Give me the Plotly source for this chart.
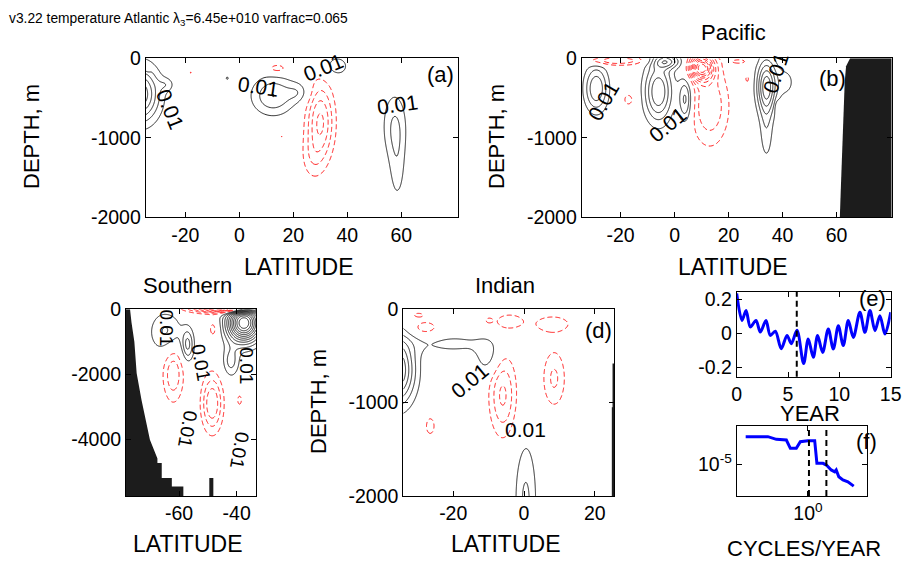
import numpy as np
import plotly.graph_objects as go

FONT = "Liberation Sans, Arial, sans-serif"
W, H = 905, 562

# ---------------------------------------------------------------------------
# EOF pattern features per basin: (latitude, depth m, amplitude, lat width, depth width)
ATL_POS = [(-37, -450, 0.060, 5.0, 240), (-27, -330, 0.012, 2.0, 60),
           (12.5, -470, 0.030, 5.5, 170), (22, -430, 0.014, 3.0, 90),
           (-4.5, -250, 0.011, 0.8, 30), (36, -100, 0.016, 3.5, 100),
           (57.5, -850, 0.020, 3.2, 300), (58.5, -1400, 0.013, 2.2, 330)]
ATL_NEG = [(30, -800, -0.042, 3.5, 330), (27, -1250, -0.012, 3.0, 200),
           (14, -130, -0.017, 3.0, 50), (-34, -140, -0.011, 0.8, 25),
           (-18, -180, -0.0105, 0.8, 20), (15.7, -985, -0.0105, 0.5, 25)]

PAC_POS = [(-29, -380, 0.040, 3.0, 200), (-6, -420, 0.050, 3.6, 260),
           (-3, -40, 0.040, 3.5, 60), (4, -520, 0.035, 1.8, 200),
           (34, -350, 0.055, 2.5, 230), (34, -900, 0.016, 1.8, 300),
           (41, -300, 0.013, 3.0, 150)]
PAC_NEG = [(-22, -30, -0.030, 8.0, 40), (-17, -520, -0.013, 2.0, 80),
           (10, -120, -0.090, 3.0, 110), (13, -600, -0.030, 4.8, 340),
           (24, -40, -0.012, 3.0, 30), (27, -260, -0.012, 1.0, 60),
           (38, -620, -0.011, 0.6, 60)]

SOU_POS = [(-37.5, -420, 0.120, 4.0, 400), (-64.5, -700, 0.022, 4.0, 450),
           (-57, -1100, 0.032, 1.5, 350), (-42, -1600, 0.024, 2.0, 330)]
SOU_NEG = [(-44, 60, -0.090, 8.0, 110), (-62, -2000, -0.028, 2.5, 600),
           (-48.5, -2900, -0.040, 2.5, 600), (-48, -600, -0.015, 1.5, 250),
           (-39, -2800, -0.012, 1.0, 200)]

IND_POS = [(-36, -650, 0.065, 3.5, 250), (-20, -370, 0.012, 9.0, 90),
           (-10, -520, 0.016, 2.5, 130), (0.5, -2050, 0.022, 2.2, 450)]
IND_NEG = [(-28, -200, -0.017, 3.0, 60), (-30, -60, -0.012, 2.0, 30),
           (-10, -120, -0.011, 1.0, 30), (-4, -130, -0.018, 3.0, 60),
           (8, -160, -0.018, 4.0, 70), (-6, -920, -0.032, 2.6, 300),
           (8.5, -740, -0.022, 2.3, 220), (-26.5, -1250, -0.013, 1.5, 110)]

# land / topography outlines (lat, depth)
PAC_LAND_LAT = [65, 63.5, 63, 62.5, 62, 61.5, 61.2, 80.4, 80.4]
PAC_LAND_DEP = [0, -100, -300, -700, -1200, -1700, -2000, -2000, 0]
SOU_LAND_LAT = [-78.4, -77.0, -76.5, -75.5, -74.7, -73.0, -70.1, -67.5, -67.5,
                -66.0, -66.0, -62.5, -62.5, -58.5, -58.5, -78.4]
SOU_LAND_DEP = [0, 0, -400, -1000, -1970, -2800, -4020, -4600, -4740,
                -4740, -5200, -5200, -5460, -5460, -5760, -5760]
SOU_RIDGE_LAT = [-49.5, -48.1, -48.1, -49.5]
SOU_RIDGE_DEP = [-5200, -5200, -5760, -5760]
IND_LAND_LAT = [25.0, 25.5, 25.5, 24.8, 24.8, 25.0]
IND_LAND_DEP = [-580, -580, -2000, -2000, -1050, -1050]

# contour labels: (text, lat, depth, angle)
ATL_LABELS = [("0.01", -25.5, -640, 68), ("0.01", 7, -350, 8),
              ("0.01", 31, -120, -22), ("0.01", 58.5, -580, -8)]
PAC_LABELS = [("0.01", -26.5, -540, -60), ("0.01", -2.5, -830, -40),
              ("0.01", 37.5, -180, -72)]
SOU_LABELS = [("0.01", -64.5, -560, 90), ("0.01", -52.5, -1650, 80),
              ("0.01", -36.5, -1750, 90), ("0.01", -57, -3700, 100),
              ("0.01", -39, -4350, 100)]
IND_LABELS = [("0.01", -15.3, -760, -40), ("0.01", 0.5, -1290, 0)]

# principal component time series (e)
PC_YEAR = [0.0, 0.52, 0.91, 1.33, 1.88, 2.30, 2.85, 3.27, 3.76, 4.34, 4.90,
           5.32, 5.87, 6.52, 6.97, 7.46, 7.88, 8.37, 8.92, 9.41, 9.90, 10.38,
           10.87, 11.36, 12.0, 12.49, 12.98, 13.47, 13.95, 14.44, 15.0]
PC_VALUE = [0.235, 0.076, 0.135, 0.038, 0.076, 0.008, 0.076, -0.012, 0.012,
            -0.090, -0.012, -0.061, 0.018, -0.178, -0.033, -0.141, -0.013,
            -0.112, 0.026, -0.092, 0.045, -0.072, 0.075, -0.024, 0.124, 0.006,
            0.134, 0.016, 0.104, -0.004, 0.124]
PC_MARK_YEAR = 5.85

# spectrum (f)
SPEC_FREQ = [0.299, 0.460, 0.542, 0.658, 0.711, 0.798, 0.863, 1.0, 1.14, 1.19,
             1.34, 1.43, 1.57, 1.68, 1.73, 1.82, 1.97, 2.17, 2.43]
SPEC_POWER = [4.82e-5, 4.82e-5, 4.14e-5, 3.98e-5, 2.47e-5, 2.47e-5, 3.61e-5,
              3.83e-5, 3.83e-5, 1.04e-5, 1.04e-5, 9.4e-6, 7.1e-6, 6.4e-6,
              7.1e-6, 4.8e-6, 4.0e-6, 3.6e-6, 2.8e-6]
SPEC_BAND = [1.02, 1.43]


def px_x(p):
    return p / W


def px_y(p):
    return 1 - p / H


def build_field(lat, dep, feats):
    L, D = np.meshgrid(lat, dep)
    z = np.zeros_like(L)
    for la, de, amp, sl, sd in feats:
        z += amp * np.exp(-0.5 * ((L - la) / sl) ** 2 - 0.5 * ((D - de) / sd) ** 2)
    return z


fig = go.Figure()


def add_contours(xr, yr, pos, neg, ax):
    lat = np.linspace(xr[0], xr[1], 320)
    dep = np.linspace(yr[0], yr[1], 320)
    z = build_field(lat, dep, pos + neg)
    xa, ya = "x" + ax, "y" + ax
    fig.add_trace(go.Contour(
        x=lat, y=dep, z=z, xaxis=xa, yaxis=ya, autocontour=False,
        contours=dict(start=0.01, end=0.3, size=0.01, coloring="lines"),
        colorscale=[[0, "#111111"], [1, "#111111"]], showscale=False,
        line=dict(width=0.9), hoverinfo="skip"))
    fig.add_trace(go.Contour(
        x=lat, y=dep, z=z, xaxis=xa, yaxis=ya, autocontour=False,
        contours=dict(start=-0.3, end=-0.009, size=0.01, coloring="lines"),
        colorscale=[[0, "#ff0000"], [1, "#ff0000"]], showscale=False,
        line=dict(width=0.9, dash="5px,3px"), hoverinfo="skip"))


def add_land(lats, deps, ax):
    fig.add_trace(go.Scatter(
        x=lats, y=deps, xaxis="x" + ax, yaxis="y" + ax, mode="lines",
        fill="toself", fillcolor="#1c1c1c", line=dict(width=0, color="#1c1c1c"),
        hoverinfo="skip", showlegend=False))


def add_labels(labels, ax, size=21):
    for txt, la, de, ang in labels:
        fig.add_annotation(x=la, y=de, xref="x" + ax, yref="y" + ax, text=txt,
                           textangle=ang, showarrow=False,
                           font=dict(family=FONT, size=size, color="black"))


RANGES = {
    "": ([-34.7, 80.9], [-2000, 0]),
    "2": ([-34.4, 80.4], [-2000, 0]),
    "3": ([-78.4, -33.3], [-5754, 0]),
    "4": ([-34.1, 25.5], [-2000, 0]),
}

add_contours(*RANGES[""], ATL_POS, ATL_NEG, "")
add_contours(*RANGES["2"], PAC_POS, PAC_NEG, "2")
add_contours(*RANGES["3"], SOU_POS, SOU_NEG, "3")
add_contours(*RANGES["4"], IND_POS, IND_NEG, "4")

add_land(PAC_LAND_LAT, PAC_LAND_DEP, "2")
add_land(SOU_LAND_LAT, SOU_LAND_DEP, "3")
add_land(SOU_RIDGE_LAT, SOU_RIDGE_DEP, "3")
add_land(IND_LAND_LAT, IND_LAND_DEP, "4")

add_labels(ATL_LABELS, "")
add_labels(PAC_LABELS, "2")
add_labels(SOU_LABELS, "3", size=19)
add_labels(IND_LABELS, "4")

fig.add_trace(go.Scatter(x=PC_YEAR, y=PC_VALUE, xaxis="x5", yaxis="y5",
                         mode="lines", line=dict(color="#0000ff", width=3,
                                                 shape="spline", smoothing=0.9),
                         hoverinfo="skip", showlegend=False))
fig.add_trace(go.Scatter(x=SPEC_FREQ, y=SPEC_POWER, xaxis="x6", yaxis="y6",
                         mode="lines", line=dict(color="#0000ff", width=3),
                         hoverinfo="skip", showlegend=False))

fig.add_shape(type="line", xref="x5", yref="y5 domain", x0=PC_MARK_YEAR,
              x1=PC_MARK_YEAR, y0=0, y1=1,
              line=dict(color="black", width=2, dash="6px,4px"))
for f in SPEC_BAND:
    fig.add_shape(type="line", xref="x6", yref="y6 domain", x0=f, x1=f,
                  y0=0, y1=1, line=dict(color="black", width=2, dash="6px,4px"))

TICKFONT = dict(family=FONT, size=19.5, color="black")
base_axis = dict(showline=True, linecolor="black", linewidth=1, mirror="ticks",
                 ticks="inside", ticklen=5, tickcolor="black", showgrid=False,
                 zeroline=False, tickfont=TICKFONT, automargin=False)

domains = {
    "": ((145.7, 457.7), (58.3, 217.3)),
    "2": ((581.7, 891.7), (58.3, 217.3)),
    "3": ((126, 256), (309.3, 496)),
    "4": ((403.3, 614.3), (309.3, 496)),
    "5": ((736.7, 890.7), (291.7, 376.7)),
    "6": ((736.7, 867.3), (426, 496)),
}
layout = {}
xticks = {"": [-20, 0, 20, 40, 60], "2": [-20, 0, 20, 40, 60], "3": [-60, -40],
          "4": [-20, 0, 20]}
yticks = {"": [-2000, -1000, 0], "2": [-2000, -1000, 0], "3": [-4000, -2000, 0],
          "4": [-2000, -1000, 0]}


def tick_text(vals):
    return [str(v).replace("\u2212", "-") for v in vals]


for k, ((x0, x1), (y0, y1)) in domains.items():
    xd = [px_x(x0), px_x(x1)]
    yd = [px_y(y1), px_y(y0)]
    xa = dict(base_axis, domain=xd, anchor="y" + k)
    ya = dict(base_axis, domain=yd, anchor="x" + k)
    if k in RANGES:
        xa.update(range=RANGES[k][0], tickvals=xticks[k], ticktext=tick_text(xticks[k]))
        ya.update(range=RANGES[k][1], tickvals=yticks[k], ticktext=tick_text(yticks[k]))
    layout["xaxis" + k] = xa
    layout["yaxis" + k] = ya

layout["xaxis5"].update(range=[0, 15], tickvals=[0, 5, 10, 15],
                        ticktext=tick_text([0, 5, 10, 15]))
layout["yaxis5"].update(range=[-0.255, 0.245], tickvals=[-0.2, 0, 0.2],
                        ticktext=["-0.2", "0", "0.2"])
layout["xaxis6"].update(type="log", range=[-0.6, 0.5], tickvals=[1],
                        ticktext=["10<sup>0</sup>"])
layout["yaxis6"].update(type="log", range=[-5.8, -4.05], tickvals=[1e-5],
                        ticktext=["10<sup>-5</sup>"])

fig.update_layout(width=W, height=H, margin=dict(l=0, r=0, t=0, b=0),
                  paper_bgcolor="white", plot_bgcolor="white",
                  showlegend=False, font=dict(family=FONT, color="black"),
                  **layout)


def text_px(txt, x, y, size, angle=0, xanchor="center"):
    fig.add_annotation(x=px_x(x), y=px_y(y), xref="paper", yref="paper",
                       text=txt, showarrow=False, textangle=angle,
                       xanchor=xanchor, yanchor="middle",
                       font=dict(family=FONT, size=size, color="black"))


text_px("v3.22 temperature Atlantic \u03bb<sub>3</sub>=6.45e+010 varfrac=0.065",
        7, 19, 13.8, xanchor="left")
text_px("Pacific", 733, 33, 22)
text_px("Southern", 187, 285, 22)
text_px("Indian", 505, 285, 22)
for x, y in [(32, 137), (497, 137), (318, 402)]:
    text_px("DEPTH, m", x, y, 22, angle=-90)
for x, y in [(298, 267), (732, 267), (187, 544), (505, 544)]:
    text_px("LATITUDE", x, y, 23)
text_px("YEAR", 810, 413, 22)
text_px("CYCLES/YEAR", 804, 548, 22)
text_px("(a)", 440, 75, 22)
text_px("(b)", 832, 78, 22)
text_px("(d)", 598, 330, 22)
text_px("(e)", 872, 298, 22)
text_px("(f)", 866, 441, 22)

fig.write_html("out.html")
